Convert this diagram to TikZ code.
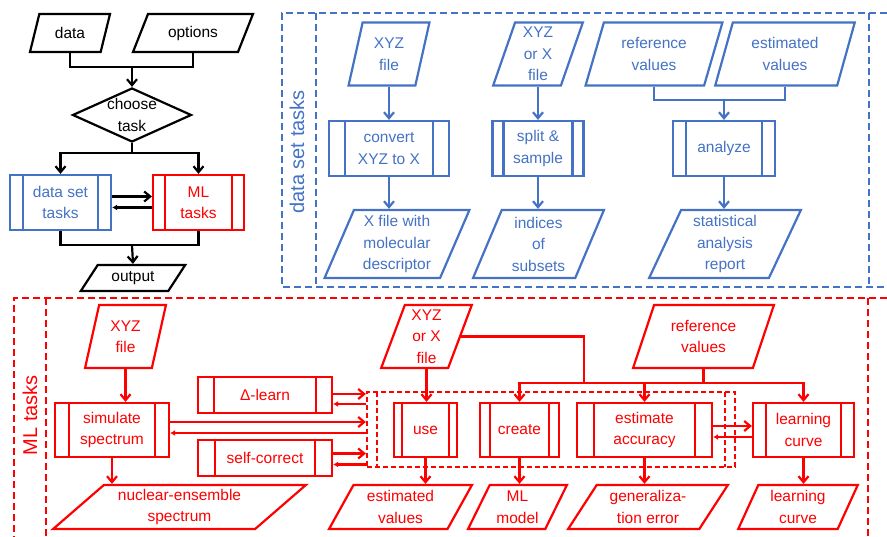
\documentclass[tikz,border=0pt]{standalone}
\usepackage{fontspec}
\setmainfont{Liberation Sans}
\usepackage{tikz}
\usetikzlibrary{shapes.geometric, arrows.meta}
\definecolor{setblue}{HTML}{4472C4}
\definecolor{mlred}{HTML}{FF0000}
\tikzstyle{inout} = [trapezium, trapezium left angle=#1, trapezium right angle=180-#1, trapezium stretches=true, draw, align=center, inner sep=0pt]
\tikzstyle{process} = [rectangle, draw, align=center, inner sep=0pt, path picture={\draw ([xshift=#1]path picture bounding box.north west) -- ([xshift=#1]path picture bounding box.south west) ([xshift=-#1]path picture bounding box.north east) -- ([xshift=-#1]path picture bounding box.south east);}]
\tikzstyle{decision} = [diamond, draw, aspect=2.2, align=center, inner sep=-3pt, minimum width=119pt, minimum height=54pt]
\tikzstyle{arrow} = [-{Straight Barb[length=6pt,width=10pt]}]
\tikzstyle{backarrow} = [-{Latex[length=5pt,width=6pt]}]
\tikzstyle{frame} = [dash pattern=on 7pt off 4pt]
\tikzstyle{title} = [rotate=90, font=\fontsize{20}{24}\selectfont]

\begin{document}
\begin{tikzpicture}[x=1pt, y=-1pt, line width=2.2pt, every node/.style={font=\fontsize{15.5}{21.5}\selectfont}]
                            \useasboundingbox (0,0) rectangle (887,537);
                            \node (data) [inout=68, minimum width=80pt, minimum height=38pt] at (70,33) {data};
                            \node (options) [inout=60, minimum width=120pt, minimum height=38pt] at (193,33) {options};
                            \node (choose) [decision] at (132,115) {choose\\task};
                            \node (output) [inout=52, minimum width=105pt, minimum height=26pt] at (133,278) {output};
                            \begin{scope}[setblue]
                            \node (dst) [process=13pt, minimum width=101pt, minimum height=55pt] at (60.5,202.5) {data set\\tasks};
                            \end{scope}
                            \begin{scope}[mlred]
                            \node (mlt) [process=12pt, minimum width=91pt, minimum height=55pt] at (198.5,202.5) {ML\\tasks};
                            \end{scope}
                            \coordinate (top join) at (132,67);
                            \coordinate (task split) at (132,153);
                            \coordinate (out join) at (132,245);
                            \draw (data.south) |- (top join) -| (options.south);
                            \draw [arrow] (top join) -- (choose.north);
                            \draw (choose.south) -- (task split);
                            \draw [arrow] (task split) -| (dst.north);
                            \draw [arrow] (task split) -| (mlt.north);
                            \draw [arrow] ([yshift=6pt]dst.east) -- ([yshift=6pt]mlt.west);
                            \draw [backarrow] ([yshift=-5pt]mlt.west) -- ([yshift=-5pt]dst.east);
                            \draw (dst.south) |- (out join) -| (mlt.south);
                            \draw [arrow] (out join) -- (output.north);

                            \begin{scope}[setblue]
                            \draw [frame] (887,13) -- (282,13) -- (282,287) -- (887,287);
                            \draw [frame] (316,13) -- (316,287);
                            \draw [frame] (869,13) -- (869,287);
                            \node (settitle) [title] at (297,152) {data set tasks};
                            \node (bxyz) [inout=76, minimum width=81pt, minimum height=63pt] at (389,54) {XYZ\\file};
                            \node (bconv) [process=16pt, minimum width=120pt, minimum height=55pt] at (389,148.5) {convert\\XYZ to X};
                            \node (bxfile) [inout=68, minimum width=145pt, minimum height=68pt] at (397,244) {X file with\\molecular\\descriptor};
                            \node (bxyzx) [inout=75, minimum width=90pt, minimum height=63pt] at (538,54) {XYZ\\or X\\file};
                            \node (bsplit) [process=11pt, minimum width=91pt, minimum height=55pt] at (538,148.5) {split \&\\sample};
                            \node (bind) [inout=69, minimum width=131pt, minimum height=68pt] at (538.5,244) {indices\\of\\subsets};
                            \node (bref) [inout=70, minimum width=138pt, minimum height=63pt] at (654,54) {reference\\values};
                            \node (best) [inout=71, minimum width=140pt, minimum height=63pt] at (785,54) {estimated\\values};
                            \node (bana) [process=13pt, minimum width=102pt, minimum height=55pt] at (724,148.5) {analyze};
                            \node (bstat) [inout=68, minimum width=152pt, minimum height=68pt] at (725,244) {statistical\\analysis\\report};
                            \coordinate (bjoin) at (724,100);
                            \draw [arrow] (bxyz.south) -- (bxyz.south |- bconv.north);
                            \draw [arrow] (bconv.south) -- (bconv.south |- bxfile.north);
                            \draw [arrow] (bxyzx.south) -- (bxyzx.south |- bsplit.north);
                            \draw [arrow] (bsplit.south) -- (bsplit.south |- bind.north);
                            \draw (bref.south) |- (bjoin) -| (best.south);
                            \draw [arrow] (bjoin) -- (bana.north);
                            \draw [arrow] (bana.south) -- (bana.south |- bstat.north);
                            \end{scope}

                            \begin{scope}[mlred]
                            \draw [frame] (887,298) -- (14,298) -- (14,537);
                            \draw [frame] (46,298) -- (46,537);
                            \draw [frame] (868,298) -- (868,537);
                            \node (mltitle) [title] at (30,415) {ML tasks};
                            \node (rxyz) [inout=76, minimum width=81pt, minimum height=63pt] at (125.5,336.5) {XYZ\\file};
                            \node (rsim) [process=14pt, minimum width=114pt, minimum height=54pt] at (112,430) {simulate\\spectrum};
                            \node (rnuc) [inout=41, minimum width=253pt, minimum height=44pt] at (179.5,507) {nuclear-ensemble\\spectrum};
                            \node (rdelta) [process=16pt, minimum width=134pt, minimum height=36pt] at (265,395) {Δ-learn};
                            \node (rself) [process=17pt, minimum width=134pt, minimum height=36pt] at (265,458) {self-correct};
                            \node (rxyzx) [inout=73, minimum width=91pt, minimum height=63pt] at (426.5,336.5) {XYZ\\or X\\file};
                            \node (grp) [process=10pt, dash pattern=on 5pt off 3pt, minimum width=368pt, minimum height=75pt] at (551,429.5) {};
                            \node (ruse) [process=8pt, minimum width=63pt, minimum height=54pt] at (425.5,430) {use};
                            \node (rcreate) [process=10pt, minimum width=79pt, minimum height=54pt] at (519.5,430) {create};
                            \node (rest) [process=17pt, minimum width=135pt, minimum height=54pt] at (644.5,430) {estimate\\accuracy};
                            \node (rlc) [process=13pt, minimum width=101pt, minimum height=54pt] at (803.5,430) {learning\\curve};
                            \node (rref) [inout=67, minimum width=141pt, minimum height=63pt] at (703.5,336.5) {reference\\values};
                            \node (restv) [inout=62, minimum width=143pt, minimum height=44pt] at (400.5,507) {estimated\\values};
                            \node (rmodel) [inout=63, minimum width=99pt, minimum height=44pt] at (517.5,507) {ML\\model};
                            \node (rgen) [inout=57, minimum width=160pt, minimum height=44pt] at (648,507) {generaliza-\\tion error};
                            \node (rlcout) [inout=67, minimum width=120pt, minimum height=44pt] at (798,507) {learning\\curve};
                            \coordinate (rbus) at (584,383);
                            \draw [arrow] (rxyz.south) -- (rxyz.south |- rsim.north);
                            \draw [arrow] (rsim.south) -- (rsim.south |- rnuc.north);
                            \draw [arrow] ([yshift=8pt]rsim.east) -- ([yshift=8pt]rsim.east -| grp.west);
                            \draw [backarrow] ([yshift=-3pt]rsim.east -| grp.west) -- ([yshift=-3pt]rsim.east);
                            \draw [arrow] ([yshift=1pt]rdelta.east) -- ([yshift=1pt]rdelta.east -| grp.west);
                            \draw [backarrow] ([yshift=-9pt]rdelta.east -| grp.west) -- ([yshift=-9pt]rdelta.east);
                            \draw [arrow] ([yshift=4.5pt]rself.east) -- ([yshift=4.5pt]rself.east -| grp.west);
                            \draw [backarrow] ([yshift=-6.5pt]rself.east -| grp.west) -- ([yshift=-6.5pt]rself.east);
                            \draw [arrow] (rxyzx.south) -- (rxyzx.south |- ruse.north);
                            \draw (rxyzx.east) -| (rbus);
                            \draw (rref.south) -- (rref.south |- rbus);
                            \draw [arrow] (rbus) -| (rcreate.north);
                            \draw [arrow] (rbus) -| (rest.north);
                            \draw [arrow] (rbus) -| (rlc.north);
                            \draw [arrow] ([yshift=4pt]rest.east) -- ([yshift=4pt]rlc.west);
                            \draw [backarrow] ([yshift=-7pt]rlc.west) -- ([yshift=-7pt]rest.east);
                            \draw [arrow] (ruse.south) -- (ruse.south |- restv.north);
                            \draw [arrow] (rcreate.south) -- (rcreate.south |- rmodel.north);
                            \draw [arrow] (rest.south) -- (rest.south |- rgen.north);
                            \draw [arrow] (rlc.south) -- (rlc.south |- rlcout.north);
                            \end{scope}
                        \end{tikzpicture}
\end{document}
